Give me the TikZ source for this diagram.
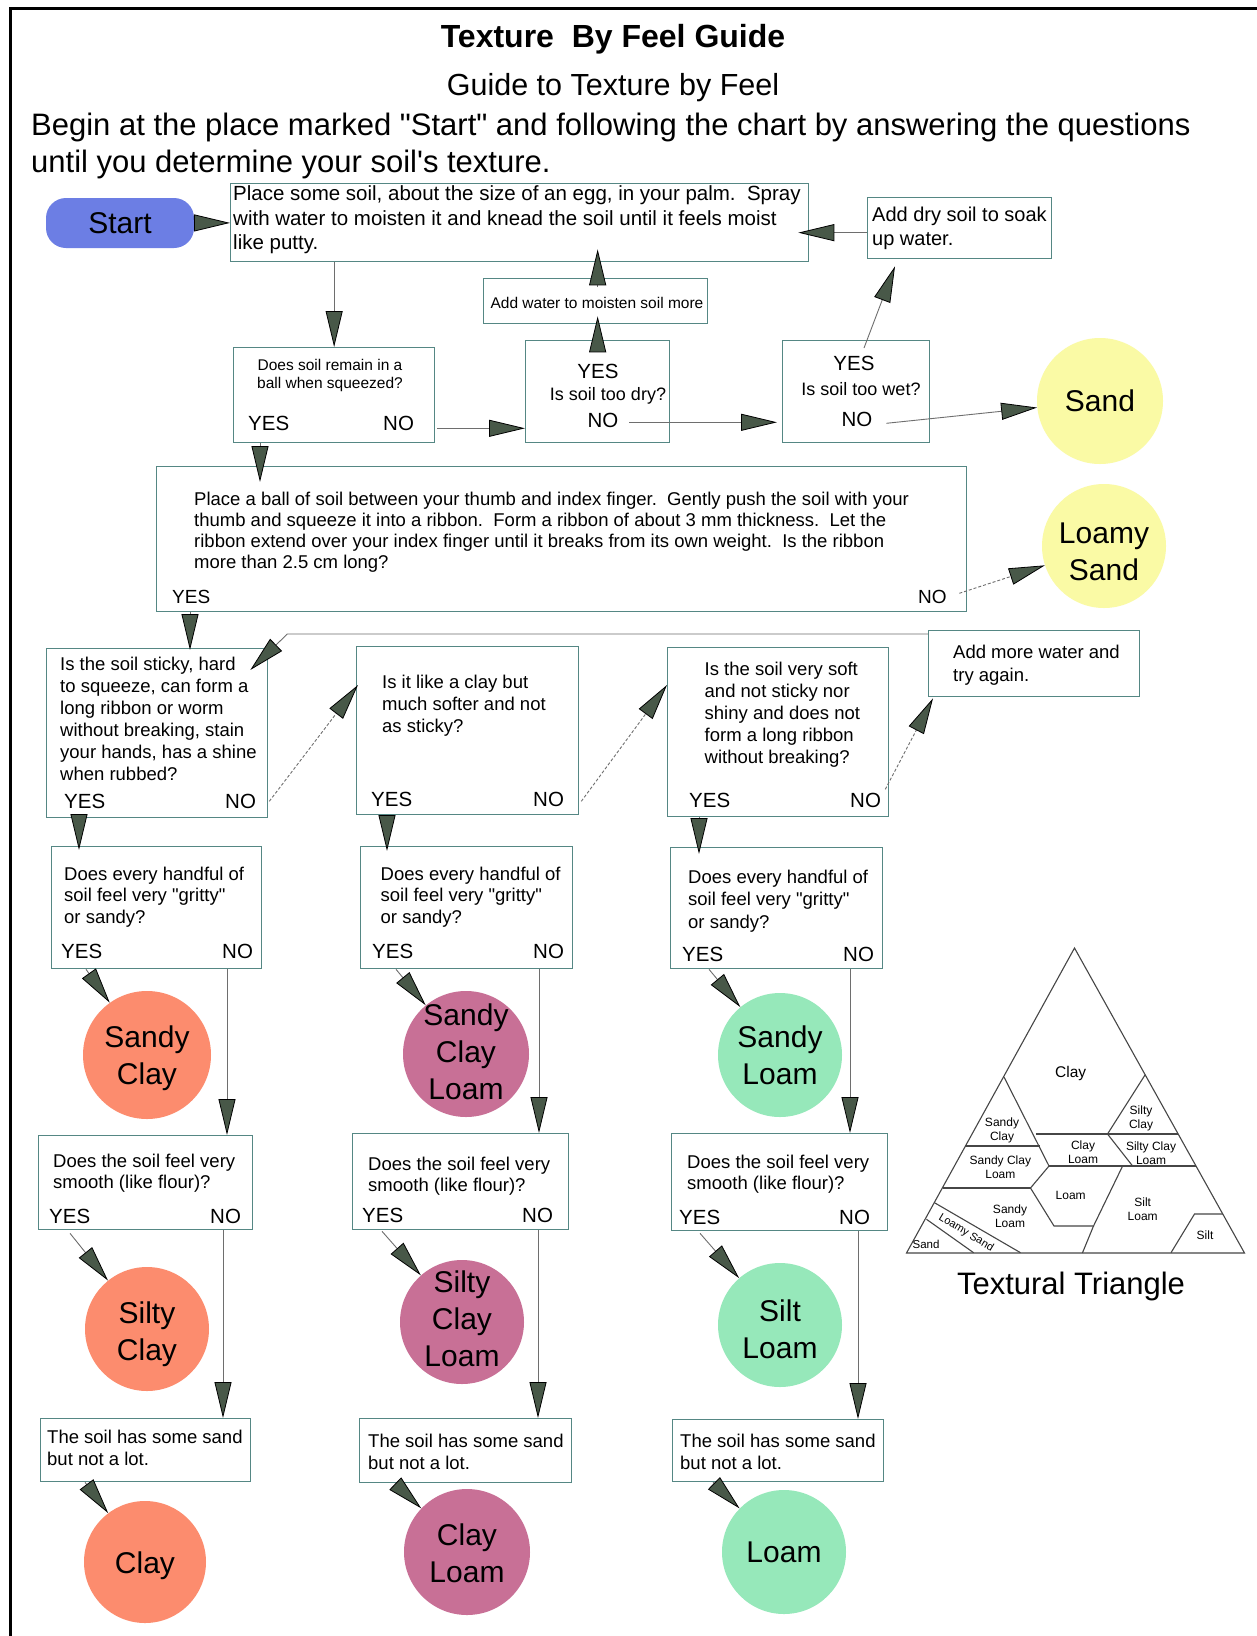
\documentclass[tikz,border=0pt]{standalone}
\usepackage{fontspec}
\setmainfont{Liberation Sans}[Ligatures=TeXOff]
\usetikzlibrary{arrows.meta,calc}
\newcommand{\myfs}[2]{\fontsize{#1}{#2}\selectfont}
\definecolor{boxc}{RGB}{85,135,132}
\definecolor{linec}{RGB}{110,110,110}
\definecolor{arrowc}{RGB}{72,88,72}
\definecolor{startc}{RGB}{108,126,228}
\definecolor{sandc}{RGB}{250,250,165}
\definecolor{salmonc}{RGB}{252,140,110}
\definecolor{mauvec}{RGB}{200,112,150}
\definecolor{mintc}{RGB}{150,232,186}
\definecolor{tric}{RGB}{70,70,70}
\begin{document}
\begin{tikzpicture}[x=1pt,y=-1pt,
  box/.style={draw=boxc, line width=1.3pt, fill=white, inner sep=0pt, anchor=north west},
  txt/.style={font=\myfs{18.5}{22}, align=left, inner sep=0pt, anchor=north west},
  yn/.style={font=\myfs{20.5}{24}, inner sep=0pt, anchor=base west},
  ync/.style={font=\myfs{20.5}{24}, inner sep=0pt, anchor=base},
  circ/.style={circle, inner sep=0pt, minimum size=#1},
  ctxt/.style={font=\myfs{30}{37}, align=center, inner sep=0pt},
  arr/.style={draw=linec, line width=0.9pt, -{Triangle[length=36pt,width=17pt,fill=arrowc,color=black,line width=0.8pt]}},
  darr/.style={arr, dash pattern=on 3pt off 2pt},
  tri/.style={draw=tric, line width=1.1pt},
  tlab/.style={font=\myfs{12}{14}, align=center, inner sep=0pt}
]
\useasboundingbox (0,0) rectangle (1257,1636);
\fill[white] (0,0) rectangle (1257,1636);
\draw[line width=3pt] (10,1640) -- (10,8) -- (1260,8);

% titles
\node[font=\bfseries\myfs{32}{38}, anchor=base, inner sep=0pt] (title) at (613,47) {Texture\ \ By Feel Guide};
\node[font=\myfs{30.5}{36}, anchor=base, inner sep=0pt] (subtitle) at (613,95) {Guide to Texture by Feel};
\node[font=\myfs{31}{37}, anchor=base west, inner sep=0pt] (intro1) at (31,135) {Begin at the place marked "Start" and following the chart by answering the questions};
\node[font=\myfs{31}{37}, anchor=base west, inner sep=0pt] (intro2) at (31,172) {until you determine your soil's texture.};

% start
\node[fill=startc, rounded corners=20pt, minimum width=148pt, minimum height=50pt, inner sep=0pt, font=\myfs{30}{36}] (start) at (120,223) {Start};

% boxes
\node[box, minimum width=578pt, minimum height=78pt] (box1) at (230,183) {};
\node[box, minimum width=184pt, minimum height=61pt] (adddry) at (867,197) {};
\node[box, minimum width=224pt, minimum height=45pt] (addw) at (483,278) {};
\node[box, minimum width=201pt, minimum height=95pt] (q0) at (233,347) {};
\node[box, minimum width=144pt, minimum height=102pt] (dry) at (525,340) {};
\node[box, minimum width=147pt, minimum height=102pt] (wet) at (782,340) {};
\node[box, minimum width=810pt, minimum height=145pt] (big) at (156,466) {};
\node[box, minimum width=221pt, minimum height=169pt] (q1) at (46,648) {};
\node[box, minimum width=222pt, minimum height=168pt] (q2) at (356,646) {};
\node[box, minimum width=221pt, minimum height=169pt] (q3) at (667,647) {};
\node[box, minimum width=211pt, minimum height=66pt] (addmore) at (928,630) {};
\node[box, minimum width=210pt, minimum height=122pt] (g1) at (51,846) {};
\node[box, minimum width=212pt, minimum height=122pt] (g2) at (360,846) {};
\node[box, minimum width=212pt, minimum height=121pt] (g3) at (670,847) {};
\node[box, minimum width=214pt, minimum height=94pt] (s1) at (38,1135) {};
\node[box, minimum width=216pt, minimum height=96pt] (s2) at (352,1133) {};
\node[box, minimum width=216pt, minimum height=97pt] (s3) at (671,1133) {};
\node[box, minimum width=210pt, minimum height=63pt] (t1) at (40,1418) {};
\node[box, minimum width=212pt, minimum height=64pt] (t2) at (359,1418) {};
\node[box, minimum width=211pt, minimum height=62pt] (t3) at (672,1419) {};

% box texts
\node[txt, font=\myfs{20.5}{24.5}] (box1-t) at (233,185.5) {Place some soil, about the size of an egg, in your palm.\ \ Spray\\with water to moisten it and knead the soil until it feels moist\\like putty.};
\node[txt, font=\myfs{20}{24}] (adddry-t) at (872,206.5) {Add dry soil to soak\\up water.};
\node[font=\myfs{15.5}{18}, anchor=base, inner sep=0pt] (addw-t) at (597,308) {Add water to moisten soil more};
\node[txt, font=\myfs{15.5}{18}, align=center, anchor=north] (q0-t) at (330,359) {Does soil remain in a\\ball when squeezed?};
\node[yn] (q0-yes) at (248,430) {YES};
\node[yn] (q0-no) at (383,430) {NO};
\node[ync] (dry-yes) at (598,378) {YES};
\node[font=\myfs{18}{22}, anchor=base, inner sep=0pt] (dry-t) at (608,400) {Is soil too dry?};
\node[ync] (dry-no) at (603,427) {NO};
\node[ync] (wet-yes) at (854,370) {YES};
\node[font=\myfs{18}{22}, anchor=base, inner sep=0pt] (wet-t) at (861,395) {Is soil too wet?};
\node[ync] (wet-no) at (857,426) {NO};
\node[txt, font=\myfs{18.5}{21.2}] (big-t) at (194,491.7) {Place a ball of soil between your thumb and index finger.\ \ Gently push the soil with your\\thumb and squeeze it into a ribbon.\ \ Form a ribbon of about 3 mm thickness.\ \ Let the\\ribbon extend over your index finger until it breaks from its own weight.\ \ Is the ribbon\\more than 2.5 cm long?};
\node[yn, font=\myfs{19}{22}] (big-yes) at (172,603) {YES};
\node[yn, font=\myfs{19}{22}] (big-no) at (918,603) {NO};

\node[txt] (q1-t) at (60,656.7) {Is the soil sticky, hard\\to squeeze, can form a\\long ribbon or worm\\without breaking, stain\\your hands, has a shine\\when rubbed?};
\node[yn] (q1-yes) at (64,808) {YES};
\node[yn] (q1-no) at (225,808) {NO};
\node[txt] (q2-t) at (382,674.7) {Is it like a clay but\\much softer and not\\as sticky?};
\node[yn] (q2-yes) at (371,806) {YES};
\node[yn] (q2-no) at (533,806) {NO};
\node[txt] (q3-t) at (704.5,661.7) {Is the soil very soft\\and not sticky nor\\shiny and does not\\form a long ribbon\\without breaking?};
\node[yn] (q3-yes) at (689,807) {YES};
\node[yn] (q3-no) at (850,807) {NO};
\node[txt, font=\myfs{18.5}{23}] (addmore-t) at (953,644.7) {Add more water and\\try again.};

\node[txt, font=\myfs{18.5}{21.5}] (g1-t) at (64,866.7) {Does every handful of\\soil feel very "gritty"\\or sandy?};
\node[yn] (g1-yes) at (61,958) {YES};
\node[yn] (g1-no) at (222,958) {NO};
\node[txt, font=\myfs{18.5}{21.5}] (g2-t) at (380.5,866.7) {Does every handful of\\soil feel very "gritty"\\or sandy?};
\node[yn] (g2-yes) at (372,958) {YES};
\node[yn] (g2-no) at (533,958) {NO};
\node[txt, font=\myfs{18.5}{22.5}] (g3-t) at (688,869.7) {Does every handful of\\soil feel very "gritty"\\or sandy?};
\node[yn] (g3-yes) at (682,961) {YES};
\node[yn] (g3-no) at (843,961) {NO};

\node[txt, font=\myfs{18.5}{21.5}] (s1-t) at (53,1153.7) {Does the soil feel very\\smooth (like flour)?};
\node[yn] (s1-yes) at (49,1223) {YES};
\node[yn] (s1-no) at (210,1223) {NO};
\node[txt, font=\myfs{18.5}{21.5}] (s2-t) at (368,1156.7) {Does the soil feel very\\smooth (like flour)?};
\node[yn] (s2-yes) at (362,1222) {YES};
\node[yn] (s2-no) at (522,1222) {NO};
\node[txt, font=\myfs{18.5}{21.5}] (s3-t) at (687,1154.7) {Does the soil feel very\\smooth (like flour)?};
\node[yn] (s3-yes) at (679,1224) {YES};
\node[yn] (s3-no) at (839,1224) {NO};

\node[txt, font=\myfs{18.5}{22.5}] (t1-t) at (47,1429.7) {The soil has some sand\\but not a lot.};
\node[txt, font=\myfs{18.5}{22}] (t2-t) at (368,1433.7) {The soil has some sand\\but not a lot.};
\node[txt, font=\myfs{18.5}{22}] (t3-t) at (680,1433.7) {The soil has some sand\\but not a lot.};

% circles
\node[circ=126pt, fill=sandc] (sand) at (1100,401) {};
\node[ctxt] (sand-t) at (sand) {Sand};
\node[circ=124pt, fill=sandc] (loamysand) at (1104,546) {};
\node[ctxt] (loamysand-t) at ($(loamysand)+(0,6)$) {Loamy\\Sand};
\node[circ=128pt, fill=salmonc] (sandyclay) at (147,1055) {};
\node[ctxt] (sandyclay-t) at ($(sandyclay)+(0,3)$) {Sandy\\Clay};
\node[circ=126pt, fill=mauvec] (scl) at (466,1054) {};
\node[ctxt] (scl-t) at ($(scl)+(0,-2)$) {Sandy\\Clay\\Loam};
\node[circ=124pt, fill=mintc] (sandyloam) at (780,1055) {};
\node[ctxt] (sandyloam-t) at (sandyloam) {Sandy\\Loam};
\node[circ=124pt, fill=salmonc] (siltyclay) at (147,1329) {};
\node[ctxt] (siltyclay-t) at ($(siltyclay)+(0,5)$) {Silty\\Clay};
\node[circ=124pt, fill=mauvec] (sicl) at (462,1322) {};
\node[ctxt] (sicl-t) at ($(sicl)+(0,-3)$) {Silty\\Clay\\Loam};
\node[circ=124pt, fill=mintc] (siltloam) at (780,1325) {};
\node[ctxt] (siltloam-t) at ($(siltloam)+(0,4)$) {Silt\\Loam};
\node[circ=122pt, fill=salmonc] (clay) at (145,1562) {};
\node[ctxt] (clay-t) at ($(clay)+(0,4)$) {Clay};
\node[circ=126pt, fill=mauvec] (clayloam) at (467,1552) {};
\node[ctxt] (clayloam-t) at ($(clayloam)+(0,1)$) {Clay\\Loam};
\node[circ=124pt, fill=mintc] (loam) at (784,1552) {};
\node[ctxt] (loam-t) at (loam) {Loam};

% connectors
\draw[arr] (start) -- (box1);
\draw[arr] (box1.south -| q0.north) -- (q0.north);
\draw[arr] ($(q0.south east)+(2,-15)$) -- ($(dry.south west)+(0,-15)$);
\draw[arr] ($(dry.north)+(0,10)$) -- ($(dry.north |- addw.south)+(0,-8)$);
\draw[arr] ($(addw.north)+(2,9)$) -- ($(addw.north |- box1.south)+(2,-13)$);
\draw[arr] ($(dry.south east)+(-41,-21)$) -- ($(wet.south west)+(-5,-21)$);
\draw[arr] ($(wet.north west)+(82,8)$) -- ($(adddry.south west)+(28,7)$);
\draw[arr] ($(adddry.west)+(0,4.5)$) -- ($(box1.east)+(-11,10)$);
\draw[arr] ($(wet.south east)+(-44,-20)$) -- (sand);
\draw[arr] ($(q0.south west)+(27,0)$) -- ($(q0.south west |- big.north)+(27,16)$);
\draw[darr] ($(big.south east)+(-8,-19)$) -- (loamysand);
\draw[arr] ($(big.south west)+(34,0)$) -- ($(big.south west |- q1.north)+(34,2)$);
\draw[arr] ($(addmore.north west)+(0,4)$) -- ($(q1.north east)+(19,-14)$) -- ($(q1.north east)+(-18,22)$);
\draw[darr] ($(q1.south east)+(1,-17)$) -- ($(q2.north west)+(2,39)$);
\draw[darr] ($(q2.south east)+(2,-14)$) -- ($(q3.north west)+(0,38)$);
\draw[darr] ($(q3.south east)+(-4,-28)$) -- ($(addmore.south west)+(5,1)$);
\draw[arr] ($(q1.south west)+(33,0)$) -- ($(q1.south west |- g1.north)+(33,4)$);
\draw[arr] ($(q2.south west)+(31,0)$) -- ($(q2.south west |- g2.north)+(31,5)$);
\draw[arr] ($(q3.south west)+(32,0)$) -- ($(q3.south west |- g3.north)+(32,7)$);
\draw[arr] ($(g1.south west)+(35,0)$) -- (sandyclay);
\draw[arr] ($(g2.south west)+(36,0)$) -- (scl);
\draw[arr] ($(g3.south west)+(39,0)$) -- (sandyloam);
\draw[arr] ($(g1.south west)+(176,0)$) -- ($(g1.south west |- s1.north)+(176,0)$);
\draw[arr] ($(g2.south west)+(179,0)$) -- ($(g2.south west |- s2.north)+(179,0)$);
\draw[arr] ($(g3.south west)+(180,0)$) -- ($(g3.south west |- s3.north)+(180,0)$);
\draw[arr] ($(s1.south west)+(32,3)$) -- (siltyclay);
\draw[arr] ($(s2.south west)+(30,1)$) -- (sicl);
\draw[arr] ($(s3.south west)+(29,2)$) -- (siltloam);
\draw[arr] ($(s1.south west)+(185,0)$) -- ($(s1.south west |- t1.north)+(185,0)$);
\draw[arr] ($(s2.south west)+(186,0)$) -- ($(s2.south west |- t2.north)+(186,0)$);
\draw[arr] ($(s3.south west)+(187,0)$) -- ($(s3.south west |- t3.north)+(187,0)$);
\draw[arr] ($(t1.south west)+(45,0)$) -- (clay);
\draw[arr] ($(t2.south west)+(36,0)$) -- (clayloam);
\draw[arr] ($(t3.south west)+(41,0)$) -- (loam);

% textural triangle
\draw[tri] (1074.5,948) -- (906.5,1253) -- (1244.5,1253) -- cycle;
\draw[tri] (1004,1077) -- (1049,1166);
\draw[tri] (1035.5,1134) -- (1178,1134);
\draw[tri] (1107.5,1134) -- (1145,1075);
\draw[tri] (965.4,1146) -- (1039.5,1146);
\draw[tri] (942.5,1188) -- (1030.5,1188);
\draw[tri] (1049,1166) -- (1196,1166);
\draw[tri] (1107.5,1134) -- (1132.6,1166);
\draw[tri] (1049,1166) -- (1030.5,1188) -- (1054,1226) -- (1093.5,1226) -- (1122.6,1166);
\draw[tri] (1093.5,1226) -- (1082.4,1253);
\draw[tri] (934.5,1202.7) -- (1020.5,1252.7);
\draw[tri] (926.5,1219.3) -- (973.6,1252.7);
\draw[tri] (1171,1252.7) -- (1194.5,1214) -- (1222.8,1214);
\node[tlab, font=\myfs{15.5}{18}] (tl-clay) at (1070.7,1073) {Clay};
\node[tlab] (tl-sc) at (1002,1130) {Sandy\\Clay};
\node[tlab] (tl-sic) at (1141,1118.5) {Silty\\Clay};
\node[tlab] (tl-cl) at (1083,1152.5) {Clay\\Loam};
\node[tlab] (tl-sicl) at (1151,1153) {Silty Clay\\Loam};
\node[tlab] (tl-scl) at (1000.4,1167) {Sandy Clay\\Loam};
\node[tlab] (tl-l) at (1070.7,1195) {Loam};
\node[tlab] (tl-sl) at (1010,1215.7) {Sandy\\Loam};
\node[tlab] (tl-sil) at (1142.7,1209) {Silt\\Loam};
\node[tlab] (tl-si) at (1205,1235) {Silt};
\node[tlab, font=\myfs{11.5}{14}] (tl-s) at (926,1244) {Sand};
\node[tlab, font=\myfs{11}{13}, rotate=-31] (tl-ls) at (966,1233) {Loamy Sand};
\node[font=\myfs{31}{36}, anchor=base, inner sep=0pt] (tt) at (1071,1294) {Textural Triangle};
\end{tikzpicture}
\end{document}
